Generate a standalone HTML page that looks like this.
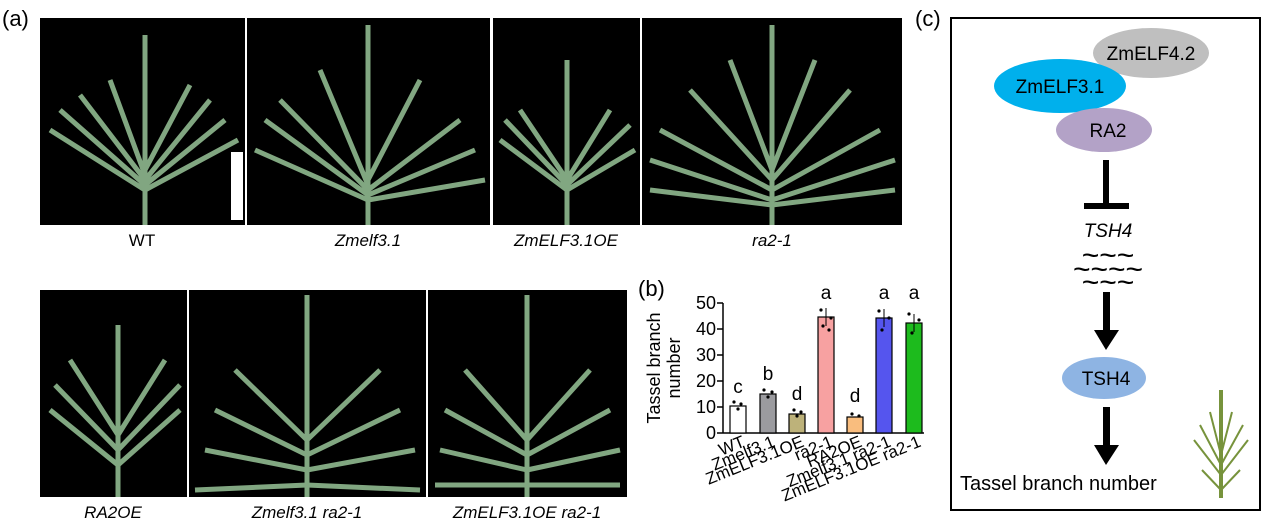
<!DOCTYPE html>
<html><head><style>body{margin:0;background:#fff;}svg{display:block;font-family:"Liberation Sans",Arial,sans-serif;}</style></head>
<body>
<svg width="1268" height="525" viewBox="0 0 1268 525" xmlns="http://www.w3.org/2000/svg">
<text x="2" y="26" font-size="22">(a)</text>
<g fill="#000">
<rect x="40" y="18" width="205" height="207"/>
<rect x="247" y="18" width="243" height="207"/>
<rect x="493" y="18" width="147" height="207"/>
<rect x="642" y="18" width="260" height="207"/>
<rect x="40" y="290" width="147" height="207"/>
<rect x="189" y="290" width="237" height="207"/>
<rect x="428" y="290" width="199" height="207"/>
</g>
<g stroke="#8fb98f" stroke-width="5" fill="none" opacity="0.9">
<path d="M145 225 V35 M145 190 L50 130 M145 185 L60 110 M145 180 L80 95 M145 175 L110 80 M145 190 L238 140 M145 185 L225 120 M145 180 L210 100 M145 170 L190 85"/>
<path d="M368 225 V25 M368 200 L255 150 M368 195 L265 120 M368 190 L280 100 M368 185 L320 70 M368 200 L485 180 M368 195 L475 150 M368 190 L460 120 M368 180 L420 80"/>
<path d="M567 225 V60 M567 190 L500 140 M567 185 L505 120 M567 180 L520 110 M567 190 L635 150 M567 185 L630 125 M567 180 L610 110"/>
<path d="M772 225 V25 M772 205 L650 190 M772 200 L650 160 M772 190 L660 130 M772 180 L690 90 M772 170 L730 60 M772 205 L895 190 M772 200 L895 160 M772 190 L880 130 M772 180 L850 90 M772 170 L815 60"/>
<path d="M118 497 V325 M118 465 L50 410 M118 450 L55 385 M118 435 L70 360 M118 465 L180 410 M118 450 L180 385 M118 435 L165 360"/>
<path d="M307 497 V295 M307 485 L195 490 M307 470 L205 450 M307 455 L215 410 M307 440 L235 370 M307 485 L420 490 M307 470 L415 450 M307 455 L400 410 M307 440 L380 370"/>
<path d="M527 497 V295 M527 485 L435 485 M527 470 L440 450 M527 455 L445 410 M527 440 L465 370 M527 485 L620 485 M527 470 L620 450 M527 455 L610 410 M527 440 L590 370"/>
</g>
<rect x="231" y="152" width="12" height="68" fill="#fff"/>
<g font-size="17" text-anchor="middle">
<text x="142" y="246">WT</text>
<text x="368" y="246" font-style="italic">Zmelf3.1</text>
<text x="566" y="246" font-style="italic">ZmELF3.1OE</text>
<text x="772" y="246" font-style="italic">ra2-1</text>
<text x="113" y="518" font-style="italic">RA2OE</text>
<text x="307" y="518" font-style="italic">Zmelf3.1 ra2-1</text>
<text x="527" y="518" font-style="italic">ZmELF3.1OE ra2-1</text>
</g>
<text x="638" y="296" font-size="22">(b)</text>
<g font-size="18">
<text transform="translate(660,368) rotate(-90)" text-anchor="middle">Tassel branch</text>
<text transform="translate(680,368) rotate(-90)" text-anchor="middle">number</text>
</g>
<g stroke="#000" stroke-width="1.5">
<line x1="723" y1="303" x2="723" y2="433"/>
<line x1="723" y1="433" x2="924" y2="433"/>
<line x1="717" y1="303" x2="723" y2="303"/><line x1="717" y1="329" x2="723" y2="329"/><line x1="717" y1="355" x2="723" y2="355"/><line x1="717" y1="381" x2="723" y2="381"/><line x1="717" y1="407" x2="723" y2="407"/><line x1="717" y1="433" x2="723" y2="433"/>
</g>
<g font-size="18" text-anchor="end">
<text x="716" y="309">50</text><text x="716" y="335">40</text><text x="716" y="361">30</text><text x="716" y="387">20</text><text x="716" y="413">10</text><text x="716" y="439">0</text>
</g>
<g stroke="#000" stroke-width="1.2">
<rect x="730" y="406" width="16" height="27" fill="#fff"/>
<rect x="760" y="394" width="16" height="39" fill="#9b9b9f"/>
<rect x="789" y="414" width="16" height="19" fill="#bdb27a"/>
<rect x="818" y="317" width="16" height="116" fill="#f7a1a1"/>
<rect x="847" y="417" width="16" height="16" fill="#f9bd7e"/>
<rect x="876" y="318" width="16" height="115" fill="#5555ee"/>
<rect x="906" y="323" width="16" height="110" fill="#1dbb1d"/>
</g>
<g stroke="#000" stroke-width="1"><line x1="826" y1="308" x2="826" y2="326"/><line x1="884" y1="309" x2="884" y2="327"/><line x1="914" y1="314" x2="914" y2="332"/></g>
<g fill="#000" font-size="19" text-anchor="middle">
<text x="738" y="393">c</text><text x="768" y="380">b</text><text x="797" y="400">d</text><text x="826" y="299">a</text><text x="855" y="402">d</text><text x="884" y="299">a</text><text x="914" y="299">a</text>
</g>
<g fill="#000">
<circle cx="734" cy="402" r="1.6"/><circle cx="741" cy="404" r="1.6"/><circle cx="738" cy="409" r="1.6"/><circle cx="764" cy="390" r="1.6"/><circle cx="772" cy="392" r="1.6"/><circle cx="768" cy="397" r="1.6"/><circle cx="794" cy="410" r="1.6"/><circle cx="801" cy="412" r="1.6"/><circle cx="797" cy="416" r="1.6"/><circle cx="821" cy="310" r="1.6"/><circle cx="831" cy="318" r="1.6"/><circle cx="823" cy="326" r="1.6"/><circle cx="829" cy="330" r="1.6"/><circle cx="852" cy="414" r="1.6"/><circle cx="859" cy="416" r="1.6"/><circle cx="879" cy="311" r="1.6"/><circle cx="889" cy="318" r="1.6"/><circle cx="882" cy="330" r="1.6"/><circle cx="909" cy="314" r="1.6"/><circle cx="919" cy="320" r="1.6"/><circle cx="912" cy="333" r="1.6"/>
</g>
<g font-size="17" text-anchor="end">
<text transform="translate(746,446) rotate(-22)">WT</text>
<text transform="translate(776,446) rotate(-22)">Zmelf3.1</text>
<text transform="translate(805,446) rotate(-22)">ZmELF3.1OE</text>
<text transform="translate(834,446) rotate(-22)">ra2-1</text>
<text transform="translate(863,446) rotate(-22)">RA2OE</text>
<text transform="translate(892,446) rotate(-22)">Zmelf3.1 ra2-1</text>
<text transform="translate(922,446) rotate(-22)">ZmELF3.1OE ra2-1</text>
</g>
<text x="915" y="26" font-size="22">(c)</text>
<rect x="951" y="18" width="309" height="492" fill="none" stroke="#000" stroke-width="2"/>
<ellipse cx="1151" cy="53" rx="58" ry="25" fill="#bfbfbf"/>
<ellipse cx="1060" cy="86" rx="66" ry="27" fill="#00b0ec"/>
<ellipse cx="1104" cy="130" rx="48" ry="22" fill="#b3a2c7"/>
<g font-size="19" text-anchor="middle">
<text x="1151" y="60">ZmELF4.2</text>
<text x="1060" y="93">ZmELF3.1</text>
<text x="1108" y="137">RA2</text>
<text x="1108" y="237" font-style="italic">TSH4</text>
</g>
<rect x="1103" y="160" width="6" height="45" fill="#000"/>
<rect x="1084" y="203" width="45" height="6" fill="#000"/>
<g font-size="30" text-anchor="middle"><text x="1108" y="265">~~~</text><text x="1108" y="279">~~~~</text><text x="1108" y="292">~~~</text></g>
<rect x="1103" y="292" width="7" height="40" fill="#000"/><polygon points="1094,330 1119,330 1106,350" fill="#000"/>
<ellipse cx="1104" cy="378" rx="42" ry="21" fill="#8eb4e3"/>
<text x="1106" y="385" font-size="19" text-anchor="middle">TSH4</text>
<rect x="1103" y="407" width="7" height="40" fill="#000"/><polygon points="1094,445 1119,445 1106,465" fill="#000"/>
<text x="960" y="490" font-size="20">Tassel branch number</text>
<g stroke="#77933c" stroke-width="2" fill="none">
<line x1="1221" y1="390" x2="1221" y2="498" stroke-width="4"/>
<path d="M1221 490 L1202 470 M1221 475 L1194 440 M1221 465 L1200 425 M1221 455 L1210 412 M1221 490 L1240 470 M1221 475 L1248 440 M1221 465 L1243 425 M1221 455 L1232 412"/>
</g>
</svg>
</body></html>
